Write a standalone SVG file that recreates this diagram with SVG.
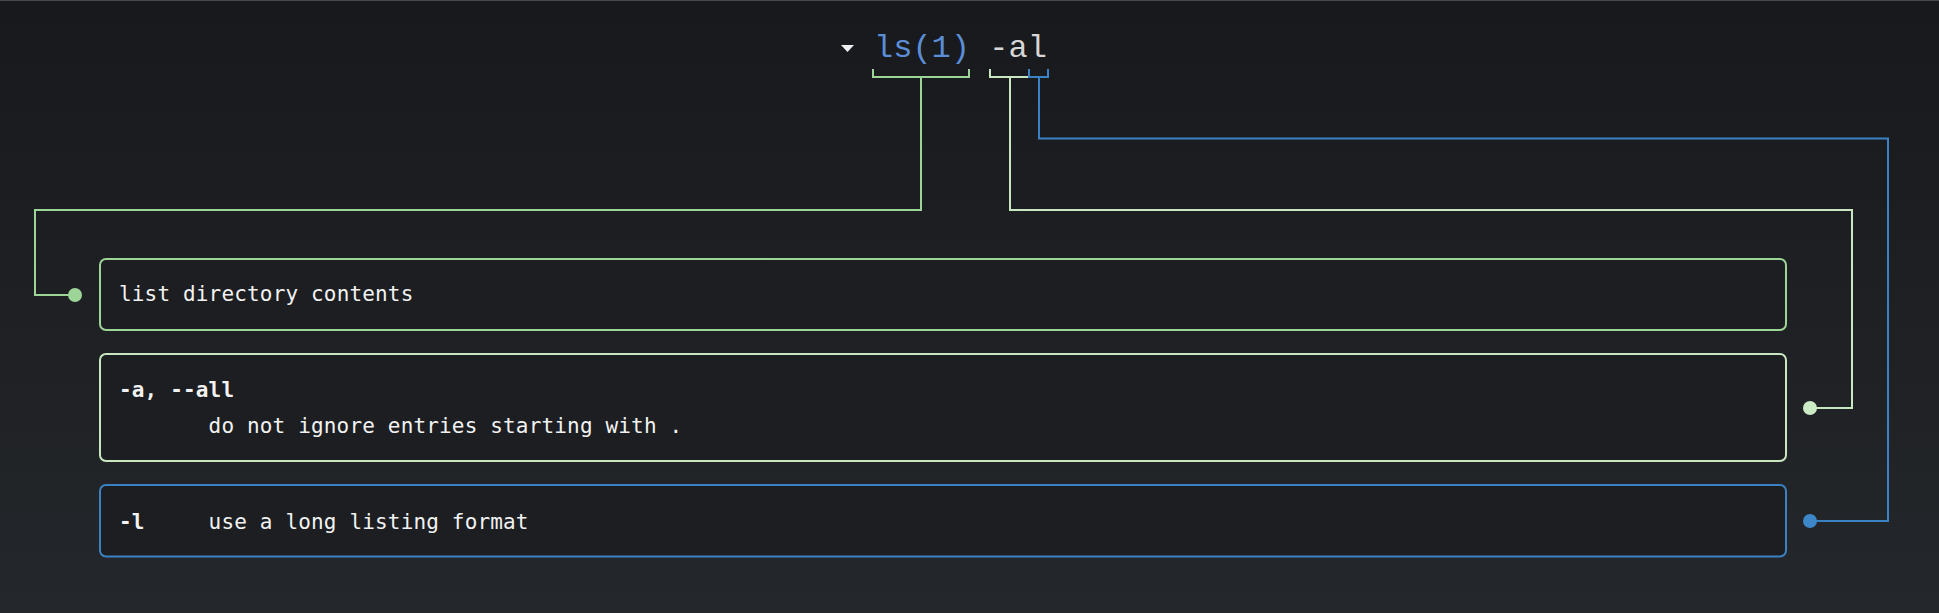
<svg xmlns="http://www.w3.org/2000/svg" width="1939" height="613" viewBox="0 0 1939 613">
  <defs>
    <linearGradient id="bg" x1="0" y1="0" x2="0" y2="1">
      <stop offset="0" stop-color="#18191c"/>
      <stop offset="1" stop-color="#24272b"/>
    </linearGradient>
  </defs>
  <style>
    .body { font-family: "DejaVu Sans Mono", "Liberation Mono", monospace; font-size: 21px; letter-spacing: 0.16px; fill: #f2f2f2; }
    .b { font-weight: bold; }
    .title { font-family: "Liberation Mono", "Courier New", monospace; font-size: 32px; }
    .box { fill: #1c1e21; stroke-width: 2; }
    .conn { fill: none; stroke-width: 2; }
    .g1 { stroke: #9dd498; }
    .g2 { stroke: #c8e7c0; }
    .bl { stroke: #3a82c4; }
  </style>
  <rect x="0" y="0" width="1939" height="613" fill="url(#bg)"/>
  <line x1="0" y1="0.5" x2="1939" y2="0.5" stroke="#4a4a4a" stroke-width="1"/>

  <g id="title">
    <polygon points="841,45 854,45 847.5,52" fill="#f0f0f0"/>
    <text class="title" x="874" y="57"><tspan fill="#5b8ed6">ls(1)</tspan><tspan fill="#d6d6d6"> -al</tspan></text>
  </g>

  <g id="connectors">
    <path class="conn g1" d="M873,69 V77 H969 V69 M921,77 V210 H35 V295 H75"/>
    <circle cx="75" cy="295" r="7" fill="#9dd498"/>
    <path class="conn g2" d="M990,69 V77 H1029 V69 M1010,77 V210 H1852 V408 H1810"/>
    <circle cx="1810" cy="408" r="7" fill="#cdeac6"/>
    <path class="conn bl" d="M1029,69 V77 H1048 V69 M1039,77 V138.5 H1888 V521 H1810"/>
    <circle cx="1810" cy="521" r="7" fill="#3d87c9"/>
  </g>

  <g id="node-ls">
    <rect class="box g1" x="100" y="259" width="1686" height="71" rx="6"/>
    <text class="body" x="119" y="301">list directory contents</text>
  </g>

  <g id="node-a">
    <rect class="box g2" x="100" y="354" width="1686" height="107" rx="6"/>
    <text class="body b" x="119" y="397">-a, --all</text>
    <text class="body" x="208.6" y="433">do not ignore entries starting with .</text>
  </g>

  <g id="node-l">
    <rect class="box bl" x="100" y="485" width="1686" height="71.5" rx="6"/>
    <text class="body b" x="119" y="529">-l</text>
    <text class="body" x="208.6" y="529">use a long listing format</text>
  </g>
</svg>
